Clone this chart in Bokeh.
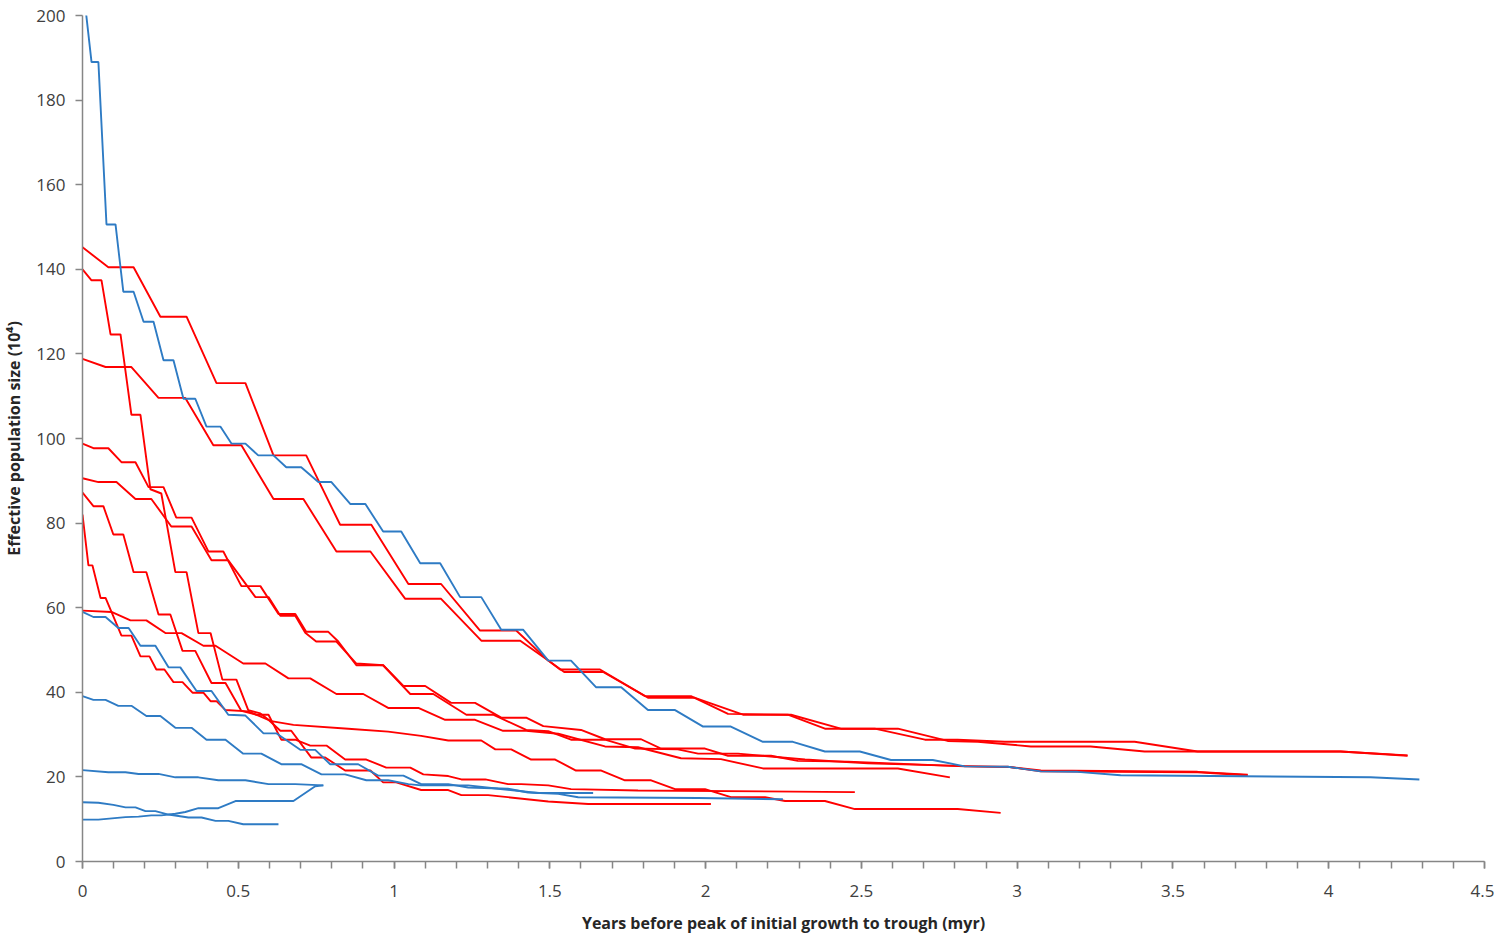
from bokeh.plotting import figure
from bokeh.models import Range1d, FixedTicker
from bokeh.embed import file_html
from bokeh.resources import INLINE

# ---------------- data (x in million years, y in 10^4) ----------------
red_a_x = [0, 0.083, 0.164, 0.250, 0.334, 0.430, 0.523, 0.613, 0.718, 0.827, 0.927, 1.046, 1.151, 1.276, 1.392,
           1.495, 1.533, 1.661, 1.806, 1.953, 2.072, 2.264, 2.383, 2.543, 2.704, 2.809, 2.960, 3.377, 3.579, 4.038, 4.253]
red_a_y = [145.2, 140.5, 140.5, 128.8, 128.8, 113.1, 113.1, 96, 96, 79.6, 79.6, 65.6, 65.6, 54.6, 54.6,
           47.5, 45.4, 45.4, 39.1, 39.1, 34.9, 34.7, 31.4, 31.4, 28.8, 28.8, 28.3, 28.3, 26, 26, 25]

red_b_x = [0, 0.074, 0.157, 0.244, 0.330, 0.420, 0.510, 0.613, 0.709, 0.815, 0.924, 1.036, 1.151, 1.280, 1.405,
           1.495, 1.546, 1.671, 1.815, 1.966, 2.120, 2.274, 2.434, 2.617, 2.777, 2.874, 3.044, 3.236, 3.409, 4.038, 4.253]
red_b_y = [118.8, 116.9, 116.9, 109.6, 109.6, 98.4, 98.4, 85.7, 85.7, 73.3, 73.3, 62.1, 62.1, 52.2, 52.2,
           47.5, 44.8, 44.8, 38.7, 38.7, 34.7, 34.7, 31.4, 31.4, 28.5, 28.3, 27.2, 27.2, 26, 26, 25.1]

red_c_x = [0, 0.029, 0.061, 0.090, 0.122, 0.157, 0.186, 0.218, 0.253, 0.298, 0.334, 0.372, 0.411, 0.449, 0.494,
           0.532, 0.571, 0.597, 0.635, 0.670, 0.734, 0.779, 0.843, 0.924, 0.965, 1.007, 1.087, 1.174, 1.216, 1.302,
           1.495, 1.623, 2.017]
red_c_y = [140, 137.4, 137.4, 124.6, 124.6, 105.6, 105.6, 88, 87, 68.4, 68.4, 54, 54, 43, 43,
           35.8, 35, 33.5, 30.9, 30.9, 24.6, 24.6, 21.5, 21.5, 18.7, 18.7, 16.9, 16.9, 15.7, 15.7,
           14.2, 13.6, 13.6]

red_d_x = [0, 0.035, 0.083, 0.125, 0.170, 0.212, 0.260, 0.301, 0.350, 0.404, 0.452, 0.510, 0.571, 0.629, 0.683,
           0.718, 0.789, 0.821, 0.879, 0.965, 1.030, 1.100, 1.183, 1.260, 1.344, 1.424, 1.479, 1.600, 1.677, 1.793,
           1.857, 1.998, 2.072, 2.210, 2.296, 2.457, 2.595, 2.832, 2.970, 3.076, 3.579, 3.740]
red_d_y = [98.8, 97.7, 97.7, 94.4, 94.4, 88.5, 88.5, 81.3, 81.3, 73.3, 73.3, 65.1, 65.1, 58.5, 58.5,
           54.3, 54.3, 52, 46.4, 46.4, 41.5, 41.5, 37.5, 37.5, 34, 34, 32, 31.1, 28.9, 28.9,
           26.7, 26.7, 25, 25, 23.8, 23.6, 23.2, 22.5, 22.4, 21.3, 21.1, 20.4]

red_e_x = [0, 0.051, 0.109, 0.170, 0.221, 0.285, 0.350, 0.414, 0.468, 0.555, 0.597, 0.635, 0.683, 0.715, 0.750,
           0.815, 0.879, 0.965, 1.052, 1.126, 1.232, 1.318, 1.424, 1.495, 1.568, 1.677, 1.774, 1.911, 1.976, 2.104,
           2.319, 2.521, 2.809, 2.979, 3.076, 3.579, 3.740]
red_e_y = [90.6, 89.7, 89.7, 85.7, 85.7, 79.2, 79.2, 71.2, 71.2, 62.5, 62.5, 58.1, 58.1, 54.1, 52,
           52, 46.8, 46.4, 39.6, 39.6, 34.7, 34.7, 31.1, 30.8, 28.8, 28.8, 26.7, 26.5, 25.5, 25.5,
           24.1, 23.2, 22.6, 22.3, 21.5, 21.2, 20.5]

red_f_x = [0, 0.035, 0.067, 0.099, 0.131, 0.164, 0.205, 0.244, 0.282, 0.321, 0.362, 0.414, 0.459, 0.510, 0.532,
           0.558, 0.597, 0.638, 0.683, 0.731, 0.783, 0.843, 0.911, 0.975, 1.052, 1.094, 1.174, 1.216, 1.293, 1.366,
           1.408, 1.495, 1.568, 1.783, 2.479]
red_f_y = [87.2, 84, 84, 77.3, 77.3, 68.4, 68.4, 58.4, 58.4, 49.8, 49.8, 42.2, 42.2, 35.6, 35.2,
           34.7, 34.7, 28.8, 28.8, 27.4, 27.4, 24.1, 24.1, 22.2, 22.2, 20.6, 20.2, 19.4, 19.4, 18.3,
           18.3, 18, 17.1, 16.8, 16.4]

red_g_x = [0, 0.019, 0.032, 0.058, 0.074, 0.093, 0.125, 0.157, 0.186, 0.215, 0.237, 0.263, 0.292, 0.321, 0.353,
           0.388, 0.411, 0.430, 0.459, 0.532, 0.606, 0.677, 0.853, 0.981, 1.087, 1.174, 1.280, 1.325, 1.376, 1.440,
           1.517, 1.584, 1.665, 1.741, 1.825, 1.902, 1.998, 2.081, 2.191, 2.255, 2.383, 2.479, 2.809, 2.947]
red_g_y = [82, 70, 70, 62.3, 62.3, 59, 53.4, 53.4, 48.5, 48.5, 45.4, 45.4, 42.4, 42.4, 39.9,
           39.9, 37.9, 37.9, 35.8, 35.5, 33.2, 32.3, 31.4, 30.7, 29.7, 28.6, 28.6, 26.5, 26.5, 24.1,
           24.1, 21.5, 21.5, 19.2, 19.2, 17.1, 17.1, 15.2, 15.2, 14.3, 14.3, 12.4, 12.4, 11.5]

red_h_x = [0, 0.093, 0.154, 0.205, 0.266, 0.318, 0.388, 0.427, 0.516, 0.587, 0.661, 0.731, 0.815, 0.901, 0.981,
           1.078, 1.164, 1.260, 1.350, 1.424, 1.527, 1.677, 1.783, 1.921, 2.049, 2.184, 2.617, 2.784]
red_h_y = [59.3, 59, 57, 57, 54, 54, 51, 51, 46.8, 46.8, 43.3, 43.3, 39.6, 39.6, 36.3,
           36.3, 33.5, 33.5, 30.9, 30.9, 30.2, 27.2, 27.0, 24.4, 24.2, 22, 22, 19.9]

blue_a_x = [0, 0.029, 0.051, 0.077, 0.106, 0.131, 0.164, 0.196, 0.228, 0.260, 0.292, 0.324, 0.362, 0.398, 0.443,
            0.478, 0.523, 0.564, 0.613, 0.654, 0.702, 0.757, 0.799, 0.860, 0.908, 0.965, 1.023, 1.084, 1.148, 1.212,
            1.280, 1.344, 1.414, 1.495, 1.568, 1.648, 1.729, 1.815, 1.902, 1.992, 2.081, 2.184, 2.280, 2.383, 2.495,
            2.595, 2.729, 2.832, 2.970, 3.076, 3.194, 3.332, 4.134, 4.291]
blue_a_y = [208, 189, 189, 150.6, 150.6, 134.7, 134.7, 127.6, 127.6, 118.5, 118.5, 109.4, 109.4, 102.8, 102.8,
            98.8, 98.8, 96, 96, 93.2, 93.2, 89.7, 89.7, 84.5, 84.5, 78, 78, 70.5, 70.5, 62.5,
            62.5, 54.8, 54.8, 47.5, 47.5, 41.2, 41.2, 35.8, 35.8, 31.9, 31.9, 28.3, 28.3, 26, 26,
            24, 24, 22.5, 22.4, 21.3, 21.2, 20.4, 19.9, 19.4]

blue_b_x = [0, 0.035, 0.074, 0.115, 0.148, 0.186, 0.234, 0.276, 0.314, 0.366, 0.414, 0.468, 0.523, 0.581, 0.622,
            0.699, 0.747, 0.795, 0.885, 0.949, 1.030, 1.087, 1.174, 1.238, 1.366, 1.430, 1.527, 1.591, 1.976, 2.248]
blue_b_y = [59, 57.8, 57.8, 55.2, 55.2, 51, 51, 45.9, 45.9, 40.3, 40.3, 34.7, 34.5, 30.3, 30.3,
            26.4, 26.4, 23, 23, 20.3, 20.3, 18.3, 18.3, 17.5, 17.2, 16.3, 16, 15.2, 15, 14.7]

blue_c_x = [0, 0.035, 0.074, 0.115, 0.157, 0.205, 0.250, 0.298, 0.350, 0.398, 0.459, 0.516, 0.574, 0.638, 0.702,
            0.767, 0.843, 0.911, 0.981, 1.046, 1.087, 1.238, 1.334, 1.462, 1.639]
blue_c_y = [39.1, 38.2, 38.2, 36.8, 36.8, 34.4, 34.4, 31.6, 31.6, 28.8, 28.8, 25.5, 25.5, 23, 23,
            20.6, 20.6, 19.2, 19.2, 18.3, 18, 18, 17.2, 16.2, 16.2]

blue_d_x = [0, 0.083, 0.138, 0.180, 0.244, 0.298, 0.372, 0.436, 0.523, 0.597, 0.683, 0.773]
blue_d_y = [21.6, 21.1, 21.1, 20.7, 20.7, 19.9, 19.9, 19.2, 19.2, 18.3, 18.3, 18.0]

blue_e_x = [0, 0.051, 0.138, 0.180, 0.221, 0.253, 0.298, 0.330, 0.372, 0.436, 0.491, 0.677, 0.747, 0.773]
blue_e_y = [9.9, 9.9, 10.5, 10.6, 10.9, 10.9, 11.3, 11.7, 12.6, 12.6, 14.3, 14.3, 17.8, 18.0]

blue_f_x = [0, 0.051, 0.099, 0.138, 0.170, 0.202, 0.234, 0.276, 0.340, 0.382, 0.427, 0.468, 0.516, 0.629]
blue_f_y = [14, 13.9, 13.4, 12.8, 12.8, 11.9, 11.9, 11.1, 10.4, 10.4, 9.6, 9.6, 8.8, 8.8]

red_series = [(red_a_x, red_a_y), (red_b_x, red_b_y), (red_c_x, red_c_y), (red_d_x, red_d_y),
              (red_e_x, red_e_y), (red_f_x, red_f_y), (red_g_x, red_g_y), (red_h_x, red_h_y)]
blue_series = [(blue_a_x, blue_a_y), (blue_b_x, blue_b_y), (blue_c_x, blue_c_y), (blue_d_x, blue_d_y),
               (blue_e_x, blue_e_y), (blue_f_x, blue_f_y)]

x_ticks = [0, 0.5, 1, 1.5, 2, 2.5, 3, 3.5, 4, 4.5]
x_tick_labels = ["0", "0.5", "1", "1.5", "2", "2.5", "3", "3.5", "4", "4.5"]
x_minor_ticks = [i / 10 for i in range(46)]
y_ticks = [0, 20, 40, 60, 80, 100, 120, 140, 160, 180, 200]

x_title = "Years before peak of initial growth to trough (myr)"
y_title = "Effective population size (10\u2074)"

RED = "#FF0000"
BLUE = "#2E7BC4"
AXIS = "#868686"
FONT = "Open Sans"

# ---------------- figure ----------------
p = figure(frame_width=1402, frame_height=846,
           x_range=Range1d(0, 4.5), y_range=Range1d(0, 200),
           output_backend="svg", toolbar_location=None,
           min_border_left=80, min_border_right=10, min_border_top=15, min_border_bottom=64)

p.outline_line_color = None
p.xgrid.visible = False
p.ygrid.visible = False
p.background_fill_color = "white"

for xs, ys in red_series:
    p.line(xs, ys, line_color=RED, line_width=1.9)
for xs, ys in blue_series:
    p.line(xs, ys, line_color=BLUE, line_width=1.9)

xa = p.xaxis[0]
xa.ticker = FixedTicker(ticks=x_ticks, minor_ticks=x_minor_ticks)
xa.major_label_overrides = {t: l for t, l in zip(x_ticks, x_tick_labels)}
xa.axis_label = x_title
ya = p.yaxis[0]
ya.ticker = FixedTicker(ticks=y_ticks, minor_ticks=[])
ya.axis_label = y_title

for ax in (xa, ya):
    ax.axis_line_color = AXIS
    ax.axis_line_width = 1.5
    ax.major_tick_line_color = AXIS
    ax.minor_tick_line_color = AXIS
    ax.major_tick_line_width = 1.5
    ax.minor_tick_line_width = 1.5
    ax.major_tick_in = 0
    ax.minor_tick_in = 0
    ax.major_tick_out = 7
    ax.minor_tick_out = 7
    ax.major_label_text_font = FONT
    ax.major_label_text_font_size = "17px"
    ax.major_label_text_color = "#404040"
    ax.axis_label_text_font = FONT
    ax.axis_label_text_font_size = "16px"
    ax.axis_label_text_font_style = "bold"
    ax.axis_label_text_color = "#262626"

ya.minor_tick_out = 0
xa.major_label_standoff = 16
xa.axis_label_standoff = 12
ya.major_label_standoff = 10
ya.axis_label_standoff = 8

open("out.html", "w").write(file_html(p, INLINE))
